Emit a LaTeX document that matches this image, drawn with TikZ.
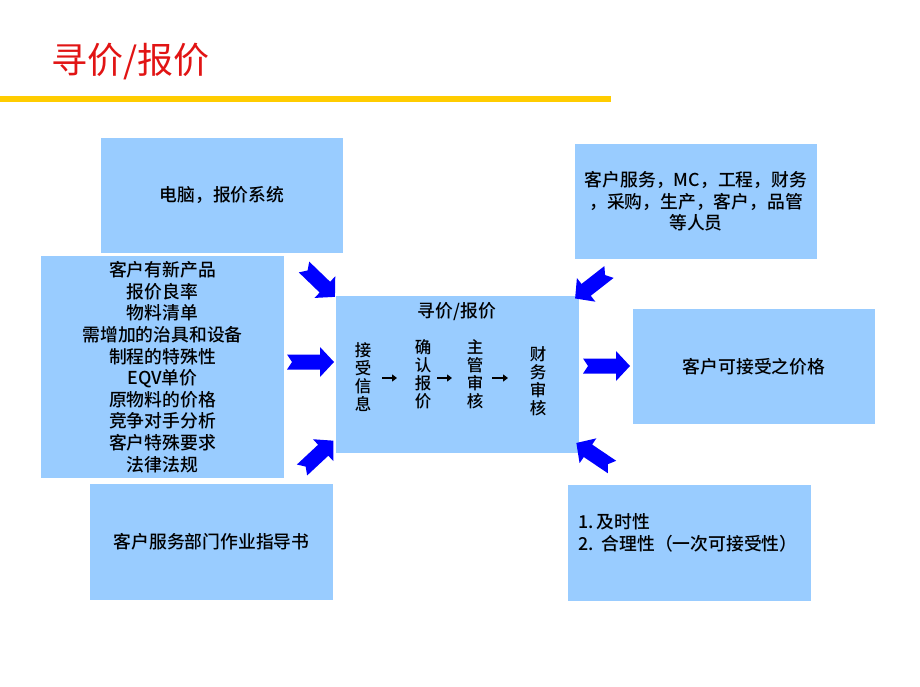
\documentclass[tikz,border=0pt]{standalone}
\usepackage{fontspec}
\newfontfamily\cjk{Noto Sans CJK SC Medium}
\newfontfamily\cjktitle{Noto Sans CJK SC}
\usetikzlibrary{arrows.meta}
\definecolor{boxblue}{RGB}{153,204,255}
\definecolor{arrowblue}{RGB}{0,0,255}
\definecolor{titlered}{RGB}{225,20,20}
\definecolor{bargold}{RGB}{255,204,0}
\tikzset{
  infobox/.style={fill=boxblue, draw=none, inner sep=0pt, align=center,
    font=\cjk\fontsize{17.8}{21.6}\selectfont},
  plain/.style={inner sep=0pt, align=center, font=\cjk\fontsize{17.8}{21.6}\selectfont},
  vcol/.style={inner sep=0pt, align=center, font=\cjk\fontsize{16.5}{18}\selectfont},
  steparrow/.style={-{Triangle[length=5pt,width=7pt]}, line width=2pt, black},
  harrow/.pic={\fill[arrowblue] (0,-7.5) -- (33,-7.5) -- (33,-15) -- (47,0) -- (33,15) -- (33,7.5) -- (0,7.5) -- (5,0) -- cycle;},
  darrow/.pic={\fill[arrowblue] (0,-7.5) -- (29,-7.5) -- (29,-15) -- (43,0) -- (29,15) -- (29,7.5) -- (0,7.5) -- (5,0) -- cycle;}
}
\begin{document}
\begin{tikzpicture}[x=1pt,y=-1pt]
\useasboundingbox (0,0) rectangle (920,687);
% title and bar
\node[inner sep=0pt, anchor=west, text=titlered, font=\cjktitle\fontsize{36}{40}\selectfont] (title) at (51,62) {寻价/报价};
\fill[bargold] (0,96) rectangle (611,102);
% boxes
\node[infobox, minimum width=242pt, minimum height=115pt] (pc) at (222,195.5) {电脑，报价系统};
\node[infobox, minimum width=243pt, minimum height=222pt] (list) at (162.5,367) {客户有新产品\\报价良率\\物料清单\\需增加的治具和设备\\制程的特殊性\\EQV单价\\原物料的价格\\竞争对手分析\\客户特殊要求\\法律法规};
\node[infobox, minimum width=243pt, minimum height=116pt] (guide) at (211.5,542) {客户服务部门作业指导书};
\node[infobox, minimum width=242pt, minimum height=115pt] (staff) at (696,201.5) {客户服务，MC，工程，财务\\，采购，生产，客户，品管\\等人员};
\node[infobox, minimum width=242pt, minimum height=115pt] (accept) at (754,366.5) {客户可接受之价格};
\node[infobox, minimum width=243pt, minimum height=116pt] (crit) at (689.5,543) {};
\node[plain, anchor=west, align=left] (crittext) at (578,533) {1.\,及时性\\2.\ \ 合理性（一次可接受性）};
% centre box
\node[infobox, minimum width=243pt, minimum height=157pt] (centre) at (457.5,374.5) {};
\node[plain] (ctitle) at (457,312) {寻价/报价};
\node[vcol] (c1) at (363,377.5) {接\\受\\信\\息};
\node[vcol] (c2) at (423,374) {确\\认\\报\\价};
\node[vcol] (c3) at (475,374) {主\\管\\审\\核};
\node[vcol] (c4) at (538,381) {财\\务\\审\\核};
\coordinate (a1s) at (382,378); \coordinate (a1e) at (397,378);
\coordinate (a2s) at (437,378); \coordinate (a2e) at (452,378);
\coordinate (a3s) at (492,378); \coordinate (a3e) at (508,378);
\draw[steparrow] (a1s) -- (a1e);
\draw[steparrow] (a2s) -- (a2e);
\draw[steparrow] (a3s) -- (a3e);
% block arrows
\pic[rotate=-44] at (304,267) {darrow};
\pic at (287,362) {harrow};
\pic[rotate=43] at (302,470) {darrow};
\pic[rotate=-142] at (609,272) {darrow};
\pic at (583,366) {harrow};
\pic[rotate=146] at (612,467) {darrow};
\end{tikzpicture}
\end{document}
